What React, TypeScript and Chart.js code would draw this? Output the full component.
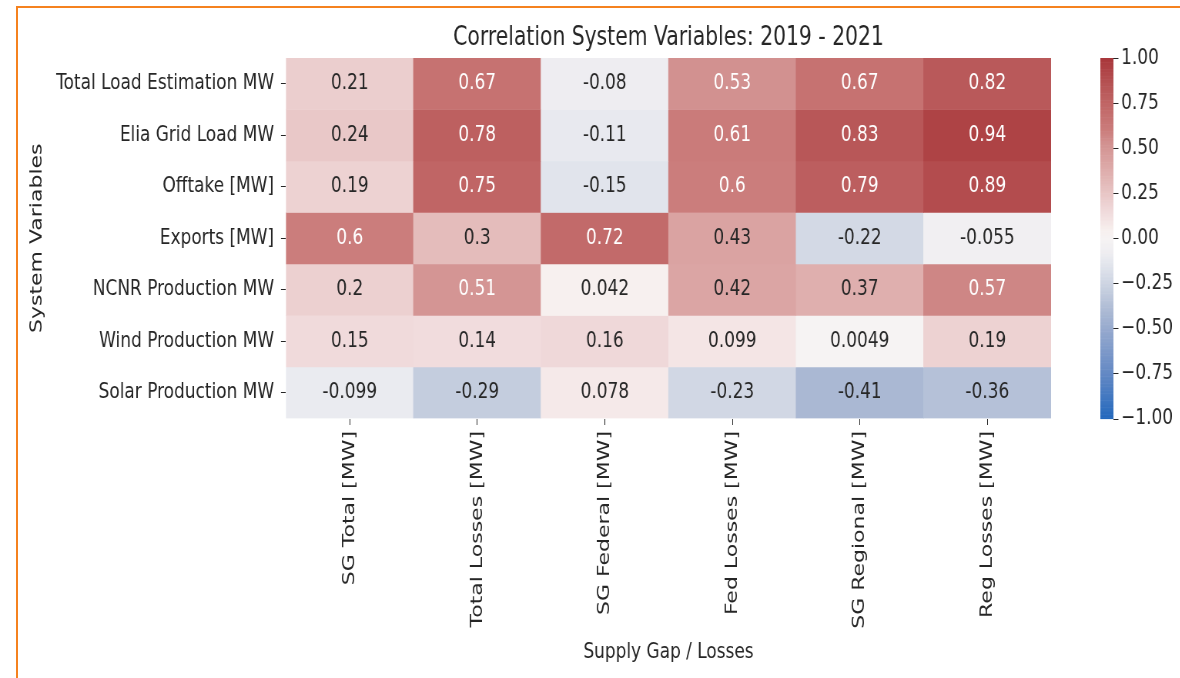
import React, { useEffect, useRef } from "react";
import { Chart, registerables } from "chart.js";

Chart.register(...registerables);

// ---------- data ----------
const columnLabels = [
  "SG Total [MW]",
  "Total Losses [MW]",
  "SG Federal [MW]",
  "Fed Losses [MW]",
  "SG Regional [MW]",
  "Reg Losses [MW]",
];
const rowLabels = [
  "Total Load Estimation MW",
  "Elia Grid Load MW",
  "Offtake [MW]",
  "Exports [MW]",
  "NCNR Production MW",
  "Wind Production MW",
  "Solar Production MW",
];
const totalLoadEstimation = [0.21, 0.67, -0.08, 0.53, 0.67, 0.82];
const eliaGridLoad = [0.24, 0.78, -0.11, 0.61, 0.83, 0.94];
const offtake = [0.19, 0.75, -0.15, 0.6, 0.79, 0.89];
const exportsMW = [0.6, 0.3, 0.72, 0.43, -0.22, -0.055];
const ncnrProduction = [0.2, 0.51, 0.042, 0.42, 0.37, 0.57];
const windProduction = [0.15, 0.14, 0.16, 0.099, 0.0049, 0.19];
const solarProduction = [-0.099, -0.29, 0.078, -0.23, -0.41, -0.36];
const rowValues = [
  totalLoadEstimation,
  eliaGridLoad,
  offtake,
  exportsMW,
  ncnrProduction,
  windProduction,
  solarProduction,
];
const colorbarTicks = [1, 0.75, 0.5, 0.25, 0, -0.25, -0.5, -0.75, -1];
const titleText = "Correlation System Variables: 2019 - 2021";
const xTitle = "Supply Gap / Losses";
const yTitle = "System Variables";

// ---------- style ----------
const SQUEEZE = 0.77; // reference image is horizontally compressed
const PAGE_W = 1180;
const PAGE_H = 678;
const CANVAS_W = Math.round(PAGE_W / SQUEEZE);
const FONT = "DejaVu Sans";
const TEXT = "#262626";

const cmapStops: [number, number[]][] = [
  [-1, [35, 105, 189]],
  [-0.75, [99, 136, 196]],
  [-0.5, [151, 170, 206]],
  [-0.4, [172, 186, 212]],
  [-0.25, [205, 212, 226]],
  [-0.15, [225, 228, 236]],
  [-0.08, [238, 237, 241]],
  [0, [246, 243, 243]],
  [0.05, [247, 239, 238]],
  [0.15, [240, 218, 219]],
  [0.3, [228, 188, 187]],
  [0.43, [218, 163, 162]],
  [0.53, [210, 145, 144]],
  [0.6, [203, 125, 124]],
  [0.75, [192, 101, 101]],
  [0.85, [182, 84, 85]],
  [1, [169, 55, 59]],
];

function cmapRGB(v: number): number[] {
  const t = Math.max(-1, Math.min(1, v));
  for (let i = 0; i < cmapStops.length - 1; i++) {
    const [v0, c0] = cmapStops[i];
    const [v1, c1] = cmapStops[i + 1];
    if (t >= v0 && t <= v1) {
      const f = (t - v0) / (v1 - v0);
      return c0.map((c, k) => Math.round(c + (c1[k] - c) * f));
    }
  }
  return cmapStops[cmapStops.length - 1][1];
}
const cmap = (v: number) => {
  const [r, g, b] = cmapRGB(v);
  return `rgb(${r},${g},${b})`;
};
function textColorFor(v: number) {
  const lin = (c: number) => {
    const s = c / 255;
    return s <= 0.03928 ? s / 12.92 : Math.pow((s + 0.055) / 1.055, 2.4);
  };
  const [r, g, b] = cmapRGB(v);
  const lum = 0.2126 * lin(r) + 0.7152 * lin(g) + 0.0722 * lin(b);
  return lum > 0.408 ? TEXT : "#ffffff";
}
const fmt = (v: number) => String(parseFloat(v.toPrecision(2)));
const fmtBar = (v: number) => (v < 0 ? "\u2212" : "") + Math.abs(v).toFixed(2);

const annotationPlugin = {
  id: "cellAnnotations",
  afterDatasetsDraw(chart: any) {
    const ctx = chart.ctx;
    ctx.save();
    ctx.font = `22px "${FONT}"`;
    ctx.textAlign = "center";
    ctx.textBaseline = "middle";
    rowValues.forEach((row, i) => {
      const meta = chart.getDatasetMeta(i);
      row.forEach((v, j) => {
        const el = meta.data[j];
        if (!el) return;
        const c = el.getCenterPoint();
        ctx.fillStyle = textColorFor(v);
        ctx.fillText(fmt(v), c.x, c.y);
      });
    });
    ctx.restore();
  },
};

// title centred over the heatmap (like matplotlib's axes title)
const axesTitlePlugin = {
  id: "axesTitle",
  afterDraw(chart: any) {
    const ctx = chart.ctx;
    const area = chart.chartArea;
    ctx.save();
    ctx.font = `26.4px "${FONT}"`;
    ctx.fillStyle = TEXT;
    ctx.textAlign = "center";
    ctx.textBaseline = "middle";
    ctx.fillText(titleText, (area.left + area.right) / 2, area.top - 20);
    ctx.restore();
  },
};

const colorbarPlugin = {
  id: "colorbar",
  afterDraw(chart: any) {
    const ctx = chart.ctx;
    const area = chart.chartArea;
    const x0 = area.right + 64;
    const w = 17;
    const top = area.top;
    const bottom = area.bottom;
    const yOf = (v: number) => bottom - ((v + 1) / 2) * (bottom - top);
    ctx.save();
    const steps = 256;
    for (let k = 0; k < steps; k++) {
      const v0 = -1 + (2 * k) / steps;
      const v1 = -1 + (2 * (k + 1)) / steps;
      ctx.fillStyle = cmap((v0 + v1) / 2);
      const ya = yOf(v1);
      const yb = yOf(v0);
      ctx.fillRect(x0, ya, w, yb - ya + 0.6);
    }
    ctx.strokeStyle = TEXT;
    ctx.lineWidth = 1;
    ctx.fillStyle = TEXT;
    ctx.font = `22px "${FONT}"`;
    ctx.textAlign = "left";
    ctx.textBaseline = "middle";
    colorbarTicks.forEach((v) => {
      const y = Math.round(yOf(v)) + 0.5;
      ctx.beginPath();
      ctx.moveTo(x0 + w, y);
      ctx.lineTo(x0 + w + 6.5, y);
      ctx.stroke();
      ctx.fillText(fmtBar(v), x0 + w + 10, yOf(v));
    });
    ctx.restore();
  },
};

export default function App() {
  const canvasRef = useRef<HTMLCanvasElement | null>(null);

  useEffect(() => {
    document.body.style.margin = "0";
    const canvas = canvasRef.current;
    if (!canvas) return;

    const datasets = rowValues.map((row, i) => ({
      label: rowLabels[i],
      data: row.map(() => [i, i + 1]),
      backgroundColor: row.map((v) => cmap(v)),
      borderWidth: 0,
      barPercentage: 1,
      categoryPercentage: 1,
      grouped: false,
    }));

    const chart = new Chart(canvas, {
      type: "bar",
      data: { labels: columnLabels, datasets: datasets as any },
      plugins: [annotationPlugin, colorbarPlugin, axesTitlePlugin],
      options: {
        animation: false,
        responsive: false,
        devicePixelRatio: 1,
        events: [],
        layout: { padding: { left: 0, top: 58, bottom: 0, right: CANVAS_W - 1365 } },
        plugins: {
          legend: { display: false },
          tooltip: { enabled: false },
          title: { display: false },
        },
        scales: {
          x: {
            type: "category",
            offset: true,
            grid: {
              offset: false,
              drawOnChartArea: false,
              drawTicks: true,
              tickLength: 6.5,
              color: TEXT,
            },
            border: { display: false },
            ticks: {
              color: TEXT,
              font: { family: FONT, size: 22 },
              minRotation: 90,
              maxRotation: 90,
              padding: 6,
              autoSkip: false,
            },
            title: {
              display: true,
              text: xTitle,
              color: TEXT,
              font: { family: FONT, size: 22 },
              padding: { top: 0, bottom: 12.8 },
            },
            afterFit: (scale: any) => {
              scale.height = PAGE_H - 418.5;
            },
          },
          y: {
            type: "linear",
            min: 0,
            max: rowLabels.length,
            reverse: true,
            grid: {
              drawOnChartArea: false,
              drawTicks: true,
              tickLength: 6.5,
              color: TEXT,
            },
            border: { display: false },
            afterBuildTicks: (scale: any) => {
              scale.ticks = rowLabels.map((_, i) => ({ value: i + 0.5 }));
            },
            ticks: {
              color: TEXT,
              font: { family: FONT, size: 22 },
              padding: 9,
              autoSkip: false,
              callback: (v: any) => rowLabels[Math.floor(Number(v))],
            },
            title: {
              display: true,
              text: yTitle,
              color: TEXT,
              font: { family: FONT, size: 22 },
              padding: { top: 35, bottom: 0 },
            },
            afterFit: (scale: any) => {
              scale.width = 371.4;
            },
          },
        },
      } as any,
    });

    return () => chart.destroy();
  }, []);

  return (
    <div
      style={{
        position: "relative",
        width: PAGE_W,
        height: PAGE_H,
        overflow: "hidden",
        background: "#ffffff",
      }}
    >
      <canvas
        ref={canvasRef}
        width={CANVAS_W}
        height={PAGE_H}
        style={{
          position: "absolute",
          left: 0,
          top: 0,
          width: CANVAS_W,
          height: PAGE_H,
          transform: `scaleX(${SQUEEZE})`,
          transformOrigin: "0 0",
        }}
      />
      <div
        style={{
          position: "absolute",
          left: 16,
          top: 6,
          width: PAGE_W - 16,
          height: PAGE_H - 6,
          borderTop: "2px solid #f5821f",
          borderLeft: "2px solid #f5821f",
          boxSizing: "border-box",
          pointerEvents: "none",
        }}
      />
    </div>
  );
}
